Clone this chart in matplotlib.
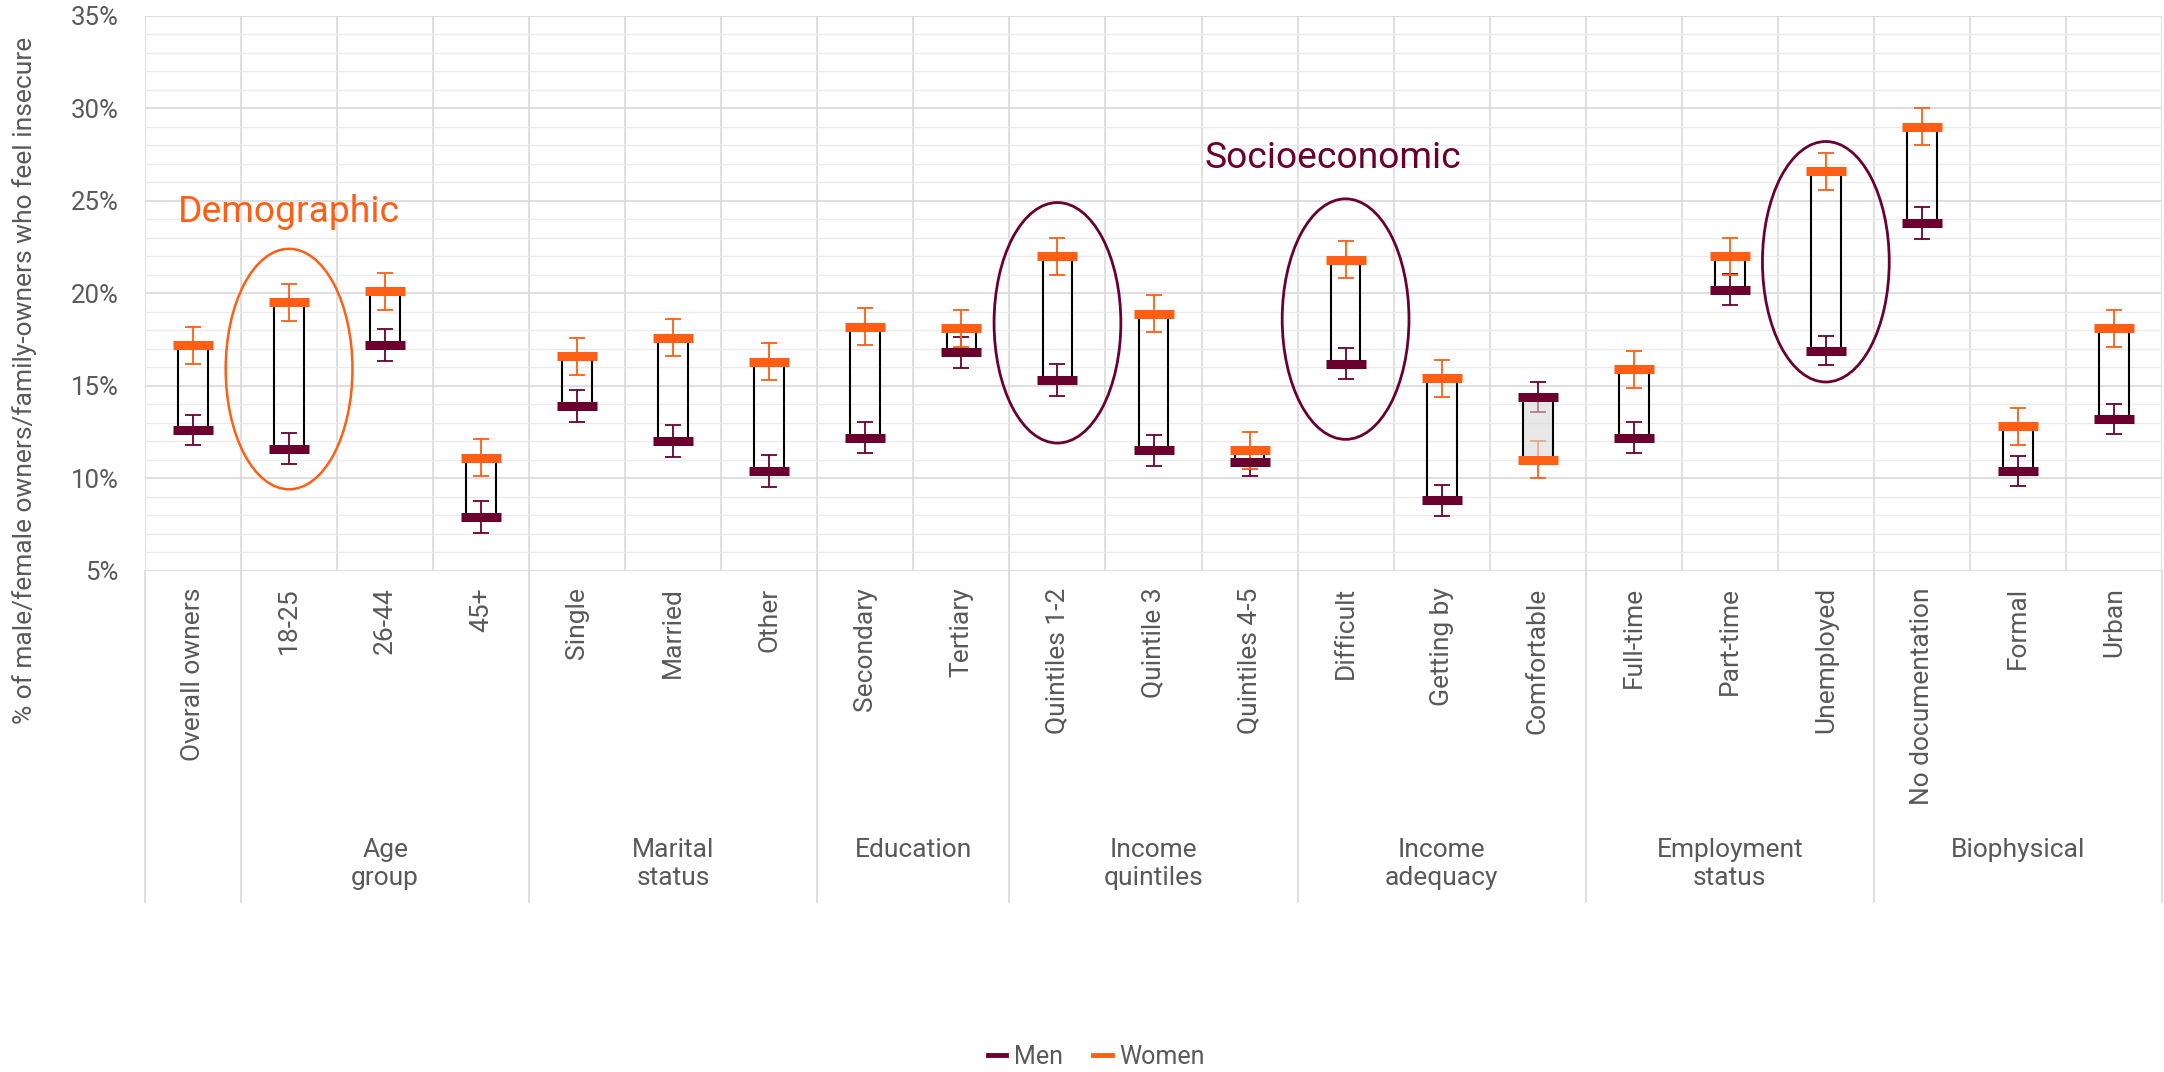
import matplotlib

matplotlib.use("Agg")
import matplotlib.pyplot as plt
import matplotlib.transforms as mtransforms
from matplotlib.lines import Line2D
from matplotlib.patches import Ellipse, Rectangle
from matplotlib.ticker import FuncFormatter, MultipleLocator

plt.rcParams["font.family"] = ["Roboto", "DejaVu Sans"]

# --- data -------------------------------------------------------------------
categories = [
    "Overall owners", "18-25", "26-44", "45+", "Single", "Married", "Other",
    "Secondary", "Tertiary", "Quintiles 1-2", "Quintile 3", "Quintiles 4-5",
    "Difficult", "Getting by", "Comfortable", "Full-time", "Part-time",
    "Unemployed", "No documentation", "Formal", "Urban",
]
men = [12.6, 11.6, 17.2, 7.9, 13.9, 12.0, 10.4, 12.2, 16.8, 15.3, 11.5,
       10.9, 16.2, 8.8, 14.4, 12.2, 20.2, 16.9, 23.8, 10.4, 13.2]
women = [17.2, 19.5, 20.1, 11.1, 16.6, 17.6, 16.3, 18.2, 18.1, 22.0, 18.9,
         11.5, 21.8, 15.4, 11.0, 15.9, 22.0, 26.6, 29.0, 12.8, 18.1]
men_err = [0.8, 0.85, 0.85, 0.85, 0.85, 0.85, 0.85, 0.85, 0.85, 0.85, 0.85,
           0.8, 0.85, 0.85, 0.8, 0.85, 0.85, 0.8, 0.85, 0.8, 0.8]
women_err = [1.0, 1.0, 1.0, 1.0, 1.0, 1.0, 1.0, 1.0, 1.0, 1.0, 1.0,
             1.0, 1.0, 1.0, 1.0, 1.0, 1.0, 1.0, 1.0, 1.0, 1.0]

group_labels = ["", "Age\ngroup", "Marital\nstatus", "Education",
                "Income\nquintiles", "Income\nadequacy", "Employment\nstatus",
                "Biophysical"]
group_sizes = [1, 3, 3, 2, 3, 3, 3, 3]

# highlighted categories: (index, ellipse centre y)
demo_circles = [(1, 15.9)]
socio_circles = [(9, 18.4), (12, 18.6), (17, 21.7)]

MEN_C = "#6B002F"
WOMEN_C = "#FF5E14"
GREY = "#595959"
FS = 19

fig = plt.figure(figsize=(21.64, 10.72), dpi=100)
ax = fig.add_axes([145 / 2164, 1 - 570.7 / 1072, 2017 / 2164, 555 / 1072])

x = list(range(len(categories)))

# gridlines
ax.set_ylim(5, 35)
ax.set_xlim(-0.5, len(categories) - 0.5)
ax.yaxis.set_major_locator(MultipleLocator(5))
ax.yaxis.set_minor_locator(MultipleLocator(1))
ax.grid(axis="y", which="minor", color="#EBEBEB", lw=1.0, zorder=0)
ax.grid(axis="y", which="major", color="#D9D9D9", lw=1.2, zorder=0)
for k in range(len(categories) + 1):
    ax.axvline(k - 0.5, color="#D9D9D9", lw=1.2, zorder=0)
for s in ax.spines.values():
    s.set_visible(False)

# error bars
ax.errorbar(x, men, yerr=men_err, fmt="none", ecolor=MEN_C, elinewidth=1.3,
            capsize=5.5, capthick=1.3, zorder=2)
ax.errorbar(x, women, yerr=women_err, fmt="none", ecolor=WOMEN_C,
            elinewidth=1.3, capsize=5.5, capthick=1.3, zorder=2)

# up/down bars
bw = 0.31
for xi, m, w in zip(x, men, women):
    lo, hi = min(m, w), max(m, w)
    fc = "none" if w >= m else (0.85, 0.85, 0.85, 0.6)
    ax.add_patch(Rectangle((xi - bw / 2, lo), bw, hi - lo, facecolor=fc,
                           edgecolor="black", lw=1.5, zorder=3))

# series markers
ax.plot(x, men, ls="none", marker="_", ms=29.5, mew=6.5, color=MEN_C, zorder=4)
ax.plot(x, women, ls="none", marker="_", ms=29.5, mew=6.5, color=WOMEN_C,
        zorder=4)

# y axis
ax.yaxis.set_major_formatter(FuncFormatter(lambda v, _: f"{v:.0f}%"))
ax.tick_params(axis="y", which="both", length=0, pad=19, labelsize=18.5,
               labelcolor=GREY)
fig.text(25 / 2164, 1 - 380 / 1072,
         "% of male/female owners/family-owners who feel insecure",
         rotation=90, ha="center", va="center", fontsize=FS, color=GREY)

# x axis: categories and groups
ax.set_xticks(x)
ax.set_xticklabels(categories, rotation=90, va="top", ha="center")
ax.tick_params(axis="x", length=0, pad=12, labelsize=FS, labelcolor=GREY)

trans = mtransforms.blended_transform_factory(ax.transData, ax.transAxes)
sep_bottom = -(902 - 570.7) / 555
label_top = -(838 - 570.7) / 555
start = 0
for lbl, n in zip(group_labels, group_sizes):
    ax.plot([start - 0.5, start - 0.5], [0, sep_bottom], color="#D9D9D9",
            lw=1.2, transform=trans, clip_on=False)
    if lbl:
        ax.text(start + (n - 1) / 2, label_top, lbl, transform=trans,
                ha="center", va="top", fontsize=FS, color=GREY,
                linespacing=1.2)
    start += n
ax.plot([start - 0.5, start - 0.5], [0, sep_bottom], color="#D9D9D9",
        lw=1.2, transform=trans, clip_on=False)

# annotations
for xi, yc in demo_circles:
    ax.add_patch(Ellipse((xi, yc), 1.32, 13.0, fill=False, edgecolor=WOMEN_C,
                         lw=1.8, zorder=5))
for xi, yc in socio_circles:
    ax.add_patch(Ellipse((xi, yc), 1.32, 13.0, fill=False, edgecolor=MEN_C,
                         lw=2.0, zorder=5))
ax.text(1.0, 24.4, "Demographic", color=WOMEN_C, fontsize=26.8,
        ha="center", va="center")
ax.text(11.87, 27.3, "Socioeconomic", color=MEN_C, fontsize=26.8,
        ha="center", va="center")

# legend
handles = [Line2D([], [], color=MEN_C, lw=3.5),
           Line2D([], [], color=WOMEN_C, lw=3.5)]
fig.legend(handles, ["Men", "Women"], loc="center",
           bbox_to_anchor=(1096 / 2164, 1 - 1057 / 1072), ncol=2,
           frameon=False, fontsize=18, labelcolor=GREY, handlelength=0.75,
           handletextpad=0.3, columnspacing=1.2)

fig.savefig("out.png", dpi=100)
